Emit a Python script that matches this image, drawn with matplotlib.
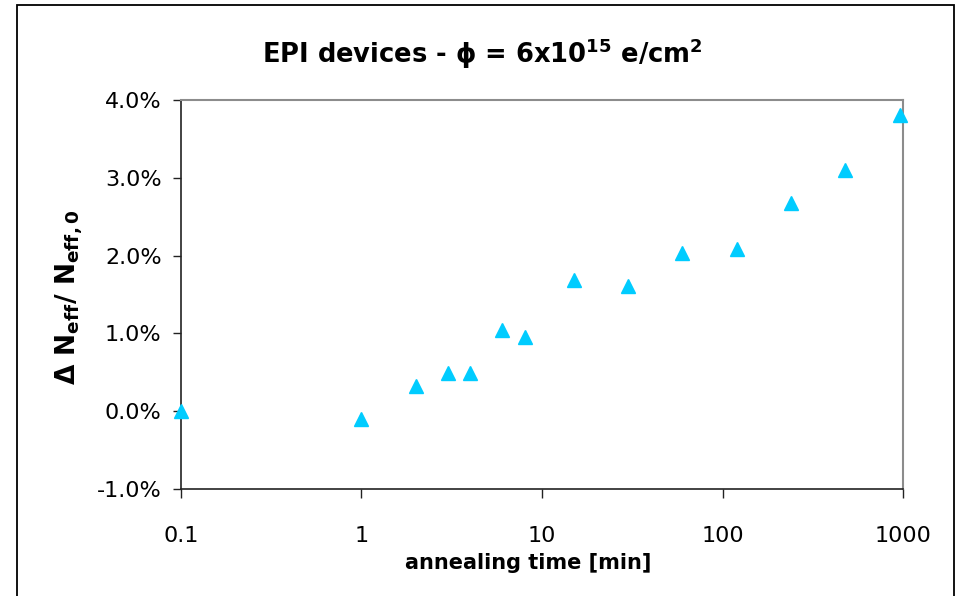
import matplotlib
matplotlib.use("Agg")
import matplotlib.pyplot as plt
from matplotlib.ticker import FuncFormatter, FixedLocator, NullLocator
from matplotlib.patches import Rectangle

# annealing time [min] and relative change of Neff [%]
time_min = [0.1, 1, 2, 3, 4, 6, 8, 15, 30, 60, 120, 240, 480, 960]
delta_neff_pct = [0.0, -0.1, 0.33, 0.49, 0.49, 1.04, 0.96, 1.69, 1.61, 2.03, 2.08, 2.68, 3.10, 3.81]
x_ticks = [0.1, 1, 10, 100, 1000]
x_tick_labels = ["0.1", "1", "10", "100", "1000"]
y_ticks = [-1.0, 0.0, 1.0, 2.0, 3.0, 4.0]

plt.rcParams['font.family'] = ['DejaVu Sans']
plt.rcParams['mathtext.fontset'] = 'dejavusans'
plt.rcParams['mathtext.default'] = 'bf'

fig = plt.figure(figsize=(9.57, 5.96), dpi=100)
ax = fig.add_axes([0.1891, 0.1795, 0.7545, 0.6527])

ax.plot(time_min, delta_neff_pct, linestyle='none', marker='^', markersize=10,
        color='#00CCFF', markeredgecolor='#00CCFF', clip_on=False, zorder=5)

ax.set_xscale('log')
ax.set_xlim(0.1, 1000)
ax.set_ylim(-1.0, 4.0)
ax.xaxis.set_major_locator(FixedLocator(x_ticks))
ax.xaxis.set_minor_locator(NullLocator())
ax.set_xticklabels(x_tick_labels)
ax.yaxis.set_major_locator(FixedLocator(y_ticks))
ax.yaxis.set_major_formatter(FuncFormatter(lambda v, p: f"{v:.1f}%"))

for side in ['top', 'right']:
    ax.spines[side].set_color('#8c8c8c')
    ax.spines[side].set_linewidth(1.5)
for side in ['left', 'bottom']:
    ax.spines[side].set_color('#222222')
    ax.spines[side].set_linewidth(1.2)

ax.tick_params(axis='x', direction='out', length=6.5, width=1.0, pad=20, labelsize=16, color='#222222')
ax.tick_params(axis='y', direction='out', length=6, width=1.0, pad=8, labelsize=16, color='#222222')

fig.text(0.504, 0.910, r"EPI devices - ϕ = 6x10$^{15}$ e/cm$^{2}$",
         ha='center', va='center', fontsize=18.5, fontweight='bold')
fig.text(0.552, 0.055, "annealing time [min]", ha='center', va='center',
         fontsize=15, fontweight='bold')
fig.text(0.072, 0.502, r"Δ N$_{eff}$/ N$_{eff,0}$", ha='center', va='center',
         rotation=90, fontsize=19, fontweight='bold')

# outer chart frame
fig.patches.append(Rectangle((0.0178, -0.05), 0.9791, 1.0416, transform=fig.transFigure,
                             fill=False, edgecolor='black', linewidth=1.3))

fig.savefig("out.png", dpi=100)
